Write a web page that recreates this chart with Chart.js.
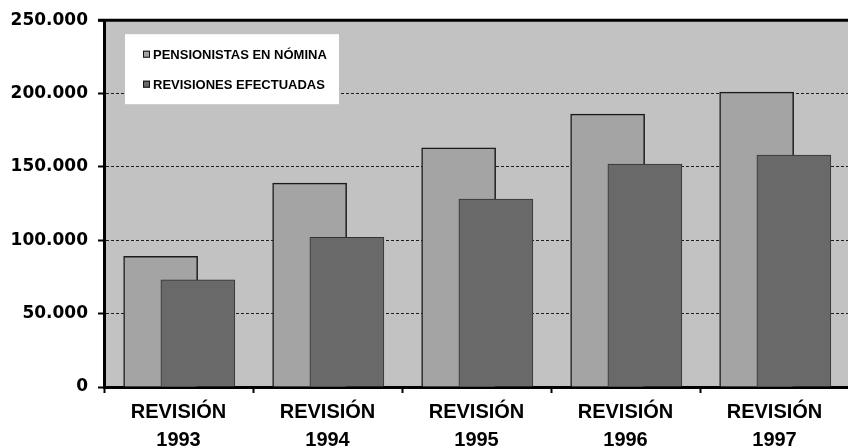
<!DOCTYPE html>
<html>
<head>
<meta charset="utf-8">
<script src="https://cdn.jsdelivr.net/npm/chart.js@4/dist/chart.umd.min.js"></script>
<style>
  html, body { margin: 0; padding: 0; background: #fff; overflow: hidden; }
  #wrap { width: 854px; height: 447px; }
</style>
</head>
<body>
<div id="wrap"><canvas id="grafico" width="854" height="447"></canvas></div>
<script>
// datos
const categories = ['1993', '1994', '1995', '1996', '1997'];
const categoryPrefix = 'REVISIÓN';
const seriesNames = ['PENSIONISTAS EN NÓMINA', 'REVISIONES EFECTUADAS'];
const pensionistas = [89000, 139000, 163000, 186000, 201000];
const revisiones = [73000, 102000, 128000, 152000, 158000];
const yTickLabels = ['0', '50.000', '100.000', '150.000', '200.000', '250.000'];

const colorFondo = '#c2c2c2';
const colorClaro = '#a4a4a4';
const colorOscuro = '#696969';
const fuente = "'Liberation Sans', Arial, sans-serif";

// fondo del area y linea superior
const fondoPlugin = {
  id: 'fondo',
  beforeDraw(chart) {
    const { ctx, chartArea: a } = chart;
    ctx.save();
    ctx.fillStyle = colorFondo;
    ctx.fillRect(a.left, a.top, a.right - a.left, a.bottom - a.top);
    ctx.restore();
  },
  afterDraw(chart) {
    const { ctx, chartArea: a } = chart;
    ctx.save();
    ctx.strokeStyle = '#000';
    ctx.lineWidth = 3;
    ctx.beginPath();
    ctx.moveTo(a.left - 6, a.top);
    ctx.lineTo(a.right, a.top);
    ctx.stroke();
    ctx.restore();
  }
};

// leyenda dentro del area
const leyendaPlugin = {
  id: 'leyenda',
  afterDatasetsDraw(chart) {
    const { ctx, chartArea: a } = chart;
    const x = a.left + 21, y = a.top + 14;
    ctx.save();
    ctx.fillStyle = '#fff';
    ctx.fillRect(x, y, 214, 70);
    ctx.font = 'bold 13px ' + fuente;
    ctx.textBaseline = 'middle';
    const cols = [colorClaro, colorOscuro];
    seriesNames.forEach((name, i) => {
      const cy = y + 20 + i * 30;
      ctx.fillStyle = cols[i];
      ctx.fillRect(x + 18, cy - 3.5, 7, 7);
      ctx.strokeStyle = '#111';
      ctx.lineWidth = 1;
      ctx.strokeRect(x + 18.5, cy - 3, 6, 6);
      ctx.fillStyle = '#000';
      ctx.fillText(name, x + 28, cy + 1);
    });
    ctx.restore();
  }
};

const ctx = document.getElementById('grafico').getContext('2d');

new Chart(ctx, {
  type: 'bar',
  data: {
    datasets: [{
      label: seriesNames[0],
      data: pensionistas.map((v, i) => ({ x: i + 0.5 - 0.12, y: v })),
      backgroundColor: colorClaro,
      borderColor: '#1a1a1a',
      borderWidth: 1.5,
      borderSkipped: 'bottom',
      barThickness: 74,
      grouped: false,
      order: 1
    }, {
      label: seriesNames[1],
      data: revisiones.map((v, i) => ({ x: i + 0.5 + 0.13, y: v })),
      backgroundColor: colorOscuro,
      borderColor: '#333',
      borderWidth: 1,
      borderSkipped: 'bottom',
      barThickness: 74,
      grouped: false,
      order: 0
    }]
  },
  options: {
    responsive: false,
    animation: false,
    layout: { padding: { top: 18, right: 2, left: 0, bottom: 0 } },
    plugins: {
      legend: { display: false },
      tooltip: { enabled: false }
    },
    scales: {
      x: {
        type: 'linear',
        min: 0,
        max: categories.length,
        offset: false,
        afterFit(scale) { scale.height = 60; },
        border: { display: true, color: '#000', width: 3 },
        grid: {
          offset: false,
          drawOnChartArea: false,
          drawTicks: true,
          tickLength: 6,
          tickWidth: 2,
          tickColor: (c) => Number.isInteger(c.tick && c.tick.value) ? '#000' : 'rgba(0,0,0,0)'
        },
        ticks: {
          stepSize: 0.5,
          autoSkip: false,
          maxRotation: 0,
          padding: 5,
          color: '#000',
          font: { family: fuente, size: 20, weight: 'bold', lineHeight: 1.4 },
          callback(value) {
            if (Number.isInteger(value)) return '';
            return [categoryPrefix, categories[Math.floor(value)]];
          }
        }
      },
      y: {
        min: 0,
        max: 250000,
        afterFit(scale) { scale.width = 104; },
        border: { display: true, color: '#000', width: 3, dash: [3, 2] },
        grid: {
          color: (c) => (c.tick && (c.tick.value === 0 || c.tick.value === 250000)) ? 'rgba(0,0,0,0)' : '#1e1e1e',
          lineWidth: 1,
          tickLength: 6,
          tickWidth: 2,
          tickColor: '#000',
          tickBorderDash: []
        },
        ticks: {
          stepSize: 50000,
          padding: 10,
          color: '#000',
          font: { family: "'DejaVu Sans', sans-serif", size: 17, weight: 'bold' },
          callback(value, index) { return yTickLabels[index]; }
        }
      }
    }
  },
  plugins: [fondoPlugin, leyendaPlugin]
});
</script>
</body>
</html>
